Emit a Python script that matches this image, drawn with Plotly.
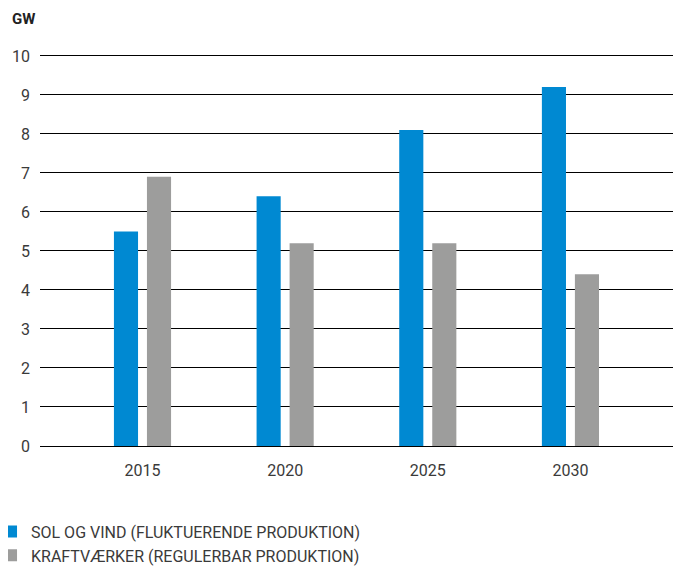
import plotly.graph_objects as go

years = ["2015", "2020", "2025", "2030"]
sol_vind = [5.5, 6.4, 8.1, 9.2]
kraftvaerker = [6.9, 5.2, 5.2, 4.4]
y_ticks = [0, 1, 2, 3, 4, 5, 6, 7, 8, 9, 10]

FONT = "Roboto"
TXT = "#3a3a3a"

fig = go.Figure()
fig.add_trace(go.Bar(x=years, y=sol_vind, name="SOL OG VIND (FLUKTUERENDE PRODUKTION)",
                     marker=dict(color="#0089D2", line=dict(width=0))))
fig.add_trace(go.Bar(x=years, y=kraftvaerker, name="KRAFTVÆRKER (REGULERBAR PRODUKTION)",
                     marker=dict(color="#9D9D9C", line=dict(width=0))))

fig.update_layout(
    width=681, height=567,
    margin=dict(l=32, r=8, t=44, b=129, autoexpand=False),
    paper_bgcolor="white", plot_bgcolor="white",
    barmode="group", bargap=0.537, bargroupgap=0.27,
    font=dict(family=FONT, size=16, color=TXT),
    showlegend=True,
    legend=dict(orientation="v", x=-0.0764, xanchor="left", y=-0.174, yanchor="top",
                font=dict(family=FONT, size=16, color=TXT), tracegroupgap=0,
                itemwidth=30, bgcolor="rgba(0,0,0,0)"),
    xaxis=dict(type="category", range=[-0.7185, 3.775], showgrid=False, showline=False,
               zeroline=False, ticks="", tickfont=dict(family=FONT, size=16, color=TXT),
               ticklabelstandoff=13),
    yaxis=dict(range=[0, 10.1], tickvals=y_ticks, showgrid=True, gridcolor="#000000", gridwidth=1,
               zeroline=True, zerolinecolor="#000000", zerolinewidth=1, showline=False,
               ticks="", tickfont=dict(family=FONT, size=16, color=TXT), ticklabelstandoff=9),
    annotations=[dict(text="<b>GW</b>", xref="paper", yref="paper", x=-0.0468, y=1.0,
                      xanchor="left", yanchor="middle", yshift=33, showarrow=False,
                      font=dict(family=FONT, size=15, color="#222"))],
)

fig.write_html("out.html")
